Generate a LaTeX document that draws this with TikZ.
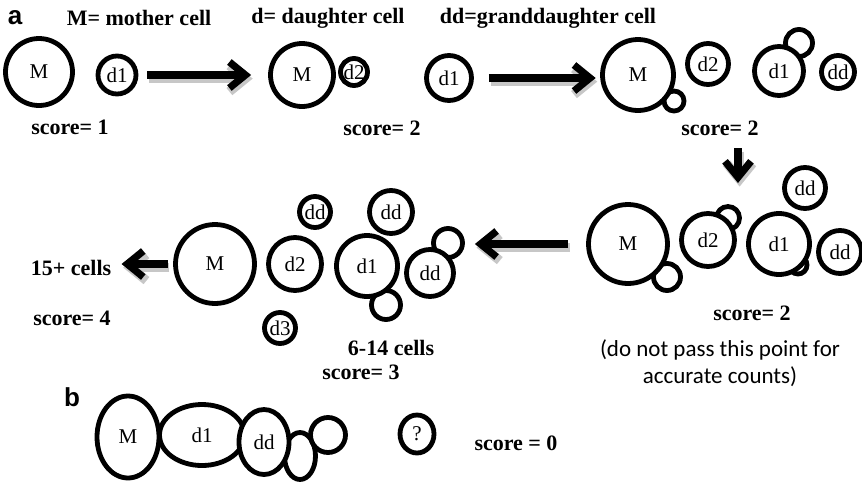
\documentclass[tikz,border=0pt]{standalone}
\usepackage{fontspec}
\setmainfont{Liberation Serif}
\newfontfamily\notefont{Carlito}
\newfontfamily\panelfont{Liberation Sans}
\usetikzlibrary{shapes.geometric, arrows.meta, positioning}

\begin{document}
\begin{tikzpicture}[
    x=0.5pt, y=-0.5pt,
    cell/.style={
      circle,
      draw,
      line width=2.4pt,
      fill=white,
      inner sep=0pt,
      font=\fontsize{10.5}{12}\selectfont
    },
    oval/.style={cell, ellipse},
    lbl/.style={font=\fontsize{11}{13}\selectfont\bfseries, inner sep=0pt},
    panel/.style={font=\panelfont\fontsize{13}{15}\selectfont\bfseries, inner sep=0pt},
    note/.style={font=\notefont\fontsize{11.5}{13.5}\selectfont, align=center, inner sep=0pt},
    arrow/.style={-{Straight Barb[length=8pt, width=13pt]}, line width=3.6pt,
      preaction={draw=black!22, line width=4.6pt, transform canvas={shift={(0.8pt,-1.8pt)}}}}
  ]
    \useasboundingbox (0,0) rectangle (862,483);

    % legend line
    \node[panel] (pa) at (15,18) {a};
    \node[lbl] (keyM) at (139,18) {M= mother cell};
    \node[lbl] (keyD) at (328,18) {d= daughter cell};
    \node[lbl] (keyDD) at (548,18) {dd=granddaughter cell};

    % score 1 and score 2
    \node[cell, minimum size=33.5pt] (mA) at (39,72) {M};
    \node[cell, minimum size=19pt] (d1A) at (117,75) {d1};
    \node[cell, minimum size=31.5pt] (mB) at (302,75) {M};
    \node[cell, minimum size=13.5pt] (d2B) at (354,72) {d2};
    \node[lbl] (scoreA) at (70,127) {score= 1};
    \node[lbl] (scoreB) at (382,128) {score= 2};

    \node[cell, minimum size=22.5pt] (d1C) at (449,78) {d1};

    % first granddaughters
    \node[cell, minimum size=10pt] (budC1) at (674,101) {};
    \node[cell, minimum size=13.5pt] (budC2) at (799,43) {};
    \node[cell, minimum size=35.5pt] (mC) at (638,75) {M};
    \node[cell, minimum size=20.5pt] (d2C) at (708,64) {d2};
    \node[cell, minimum size=24.5pt] (d1C2) at (779,71) {d1};
    \node[cell, minimum size=16.5pt] (ddC) at (838,72) {dd};
    \node[lbl] (scoreC) at (720,128) {score= 2};

    \coordinate (downtop) at (738,148);
    \coordinate (downtip) at (738,183);

    % budding colony, still countable
    \node[cell, minimum size=13.5pt] (budD1) at (667,277) {};
    \node[cell, minimum size=11.5pt] (budD2) at (728,218) {};
    \node[cell, minimum size=9pt] (budD3) at (798,265) {};
    \node[cell, minimum size=39.5pt] (mD) at (628,244) {M};
    \node[cell, minimum size=26.5pt] (d2D) at (708,240) {d2};
    \node[cell, minimum size=30.5pt] (d1D) at (779,244) {d1};
    \node[cell, minimum size=20.5pt] (ddD1) at (805,188) {dd};
    \node[cell, minimum size=21.5pt] (ddD2) at (840,252) {dd};
    \node[lbl] (scoreD) at (752,313) {score= 2};
    \node[note] (warn) at (720,363) {(do not pass this point for\\accurate counts)};

    % 6-14 cells
    \node[cell, minimum size=14.5pt] (budE1) at (386,305) {};
    \node[cell, minimum size=14.5pt] (budE2) at (448,243) {};
    \node[cell, minimum size=39.5pt] (mE) at (215,264) {M};
    \node[cell, minimum size=26.5pt] (d2E) at (295,264) {d2};
    \node[cell, minimum size=15.5pt] (ddE1) at (315,212) {dd};
    \node[cell, minimum size=15.5pt] (d3E) at (280,328) {d3};
    \node[cell, minimum size=30.5pt] (d1E) at (367,266) {d1};
    \node[cell, minimum size=21.5pt] (ddE2) at (391,212) {dd};
    \node[cell, minimum size=23.5pt] (ddE3) at (430,273) {dd};
    \node[lbl] (cells614) at (391,348) {6-14 cells};
    \node[lbl] (scoreE) at (361,372) {score= 3};

    \node[lbl] (cells15) at (71,268) {15+ cells};
    \node[lbl] (scoreF) at (72,318) {score= 4};

    % b: clump, score 0
    \node[panel] (pb) at (72,397) {b};
    \node[oval, minimum width=42.5pt, minimum height=30.5pt] (d1G) at (202,435) {d1};
    \node[oval, minimum width=15.5pt, minimum height=23.5pt] (lowG) at (300,456) {};
    \node[oval, minimum width=17.5pt, minimum height=17.5pt] (upG) at (328,435) {};
    \node[oval, minimum width=25pt, minimum height=32.5pt] (ddG) at (264,442) {dd};
    \node[oval, minimum width=31pt, minimum height=41pt] (mG) at (128,437) {M};
    \node[oval, minimum width=17pt, minimum height=19pt] (qG) at (417,434) {?};
    \node[lbl] (scoreG) at (516,443) {score = 0};

    \draw[arrow, shorten <=4.5pt, shorten >=8.5pt] (d1A) -- (d1A -| mB.west);
    \draw[arrow, shorten <=7.5pt, shorten >=2.2pt] (d1C) -- (d1C -| mC.west);
    \draw[arrow] (downtop) -- (downtip);
    \draw[arrow, shorten <=9pt, shorten >=5pt] (mD) -- (mD -| budE2.east);
    \draw[arrow, shorten <=2.7pt, shorten >=5pt] (mE) -- (mE -| cells15.east);
  \end{tikzpicture}
\end{document}
